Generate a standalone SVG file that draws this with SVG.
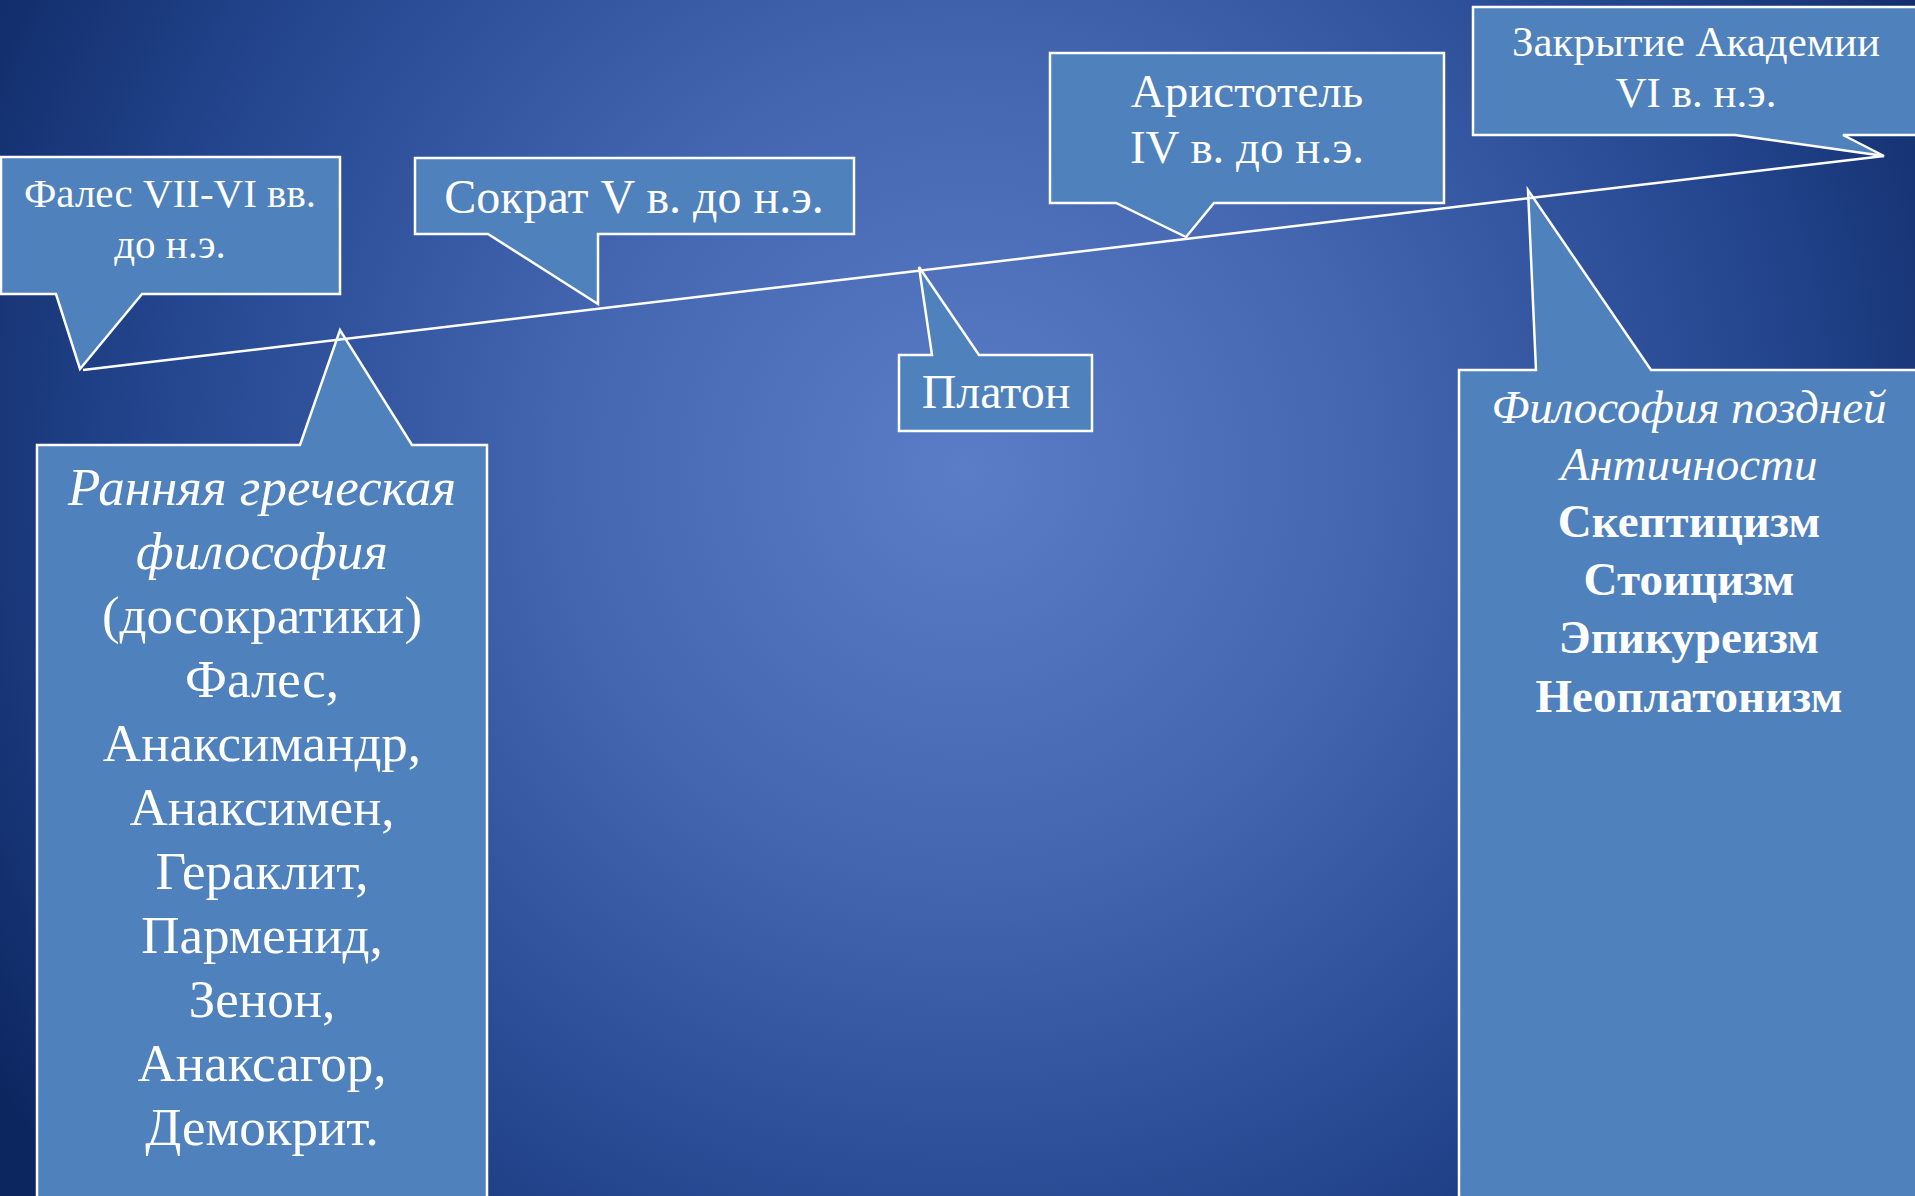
<svg xmlns="http://www.w3.org/2000/svg" width="1915" height="1196" viewBox="0 0 1915 1196">
<defs>
<radialGradient id="bg" gradientUnits="userSpaceOnUse" cx="965" cy="470" r="1150">
<stop offset="0" stop-color="#5b7cc7"/>
<stop offset="0.35" stop-color="#4465b0"/>
<stop offset="0.7" stop-color="#24468f"/>
<stop offset="1" stop-color="#0c2660"/>
</radialGradient>
<style>
.box{fill:#4f81bd;stroke:#ffffff;stroke-width:2.5;stroke-linejoin:miter}
.t{font-family:"Liberation Serif","Times New Roman",serif;fill:#ffffff;text-anchor:middle}
.i{font-style:italic}
.b{font-weight:bold}
.line{stroke:#ffffff;stroke-width:2.5;fill:none}
</style>
</defs>
<rect width="1915" height="1196" fill="url(#bg)"/>
<g id="thales">
<path class="box" d="M1,157 H340 V294 H142 L80,369 L56,294 H1 Z"/>
<text class="t" font-size="41" x="170" y="207">Фалес VII-VI вв.</text>
<text class="t" font-size="41" x="170" y="258">до н.э.</text>
</g>
<g id="socrates">
<path class="box" d="M415,158 H854 V234 H598 V304 L488,234 H415 Z"/>
<text class="t" font-size="48" x="634" y="213">Сократ V в. до н.э.</text>
</g>
<g id="plato">
<path class="box" d="M899,355 H932 L919,267 L979,355 H1092 V431 H899 Z"/>
<text class="t" font-size="48" x="996" y="408">Платон</text>
</g>
<g id="aristotle">
<path class="box" d="M1050,53 H1444 V203 H1214 L1186,237 L1116,203 H1050 Z"/>
<text class="t" font-size="47" x="1247" y="107">Аристотель</text>
<text class="t" font-size="47" x="1247" y="163">IV в. до н.э.</text>
</g>
<g id="academy-closure">
<path class="box" d="M1473,7 H1918 V135 H1843 L1884,156 L1735,135 H1473 Z"/>
<text class="t" font-size="43" x="1696" y="56">Закрытие Академии</text>
<text class="t" font-size="43" x="1696" y="107">VI в. н.э.</text>
</g>
<g id="early-greek">
<path class="box" d="M37,445 H300 L340,330 L412,445 H487 V1198 H37 Z"/>
<text class="t i" font-size="53" x="262" y="505">Ранняя греческая</text>
<text class="t i" font-size="53" x="262" y="569">философия</text>
<text class="t" font-size="53" x="262" y="633">(досократики)</text>
<text class="t" font-size="53" x="262" y="697">Фалес,</text>
<text class="t" font-size="53" x="262" y="761">Анаксимандр,</text>
<text class="t" font-size="53" x="262" y="825">Анаксимен,</text>
<text class="t" font-size="53" x="262" y="889">Гераклит,</text>
<text class="t" font-size="53" x="262" y="953">Парменид,</text>
<text class="t" font-size="53" x="262" y="1017">Зенон,</text>
<text class="t" font-size="53" x="262" y="1081">Анаксагор,</text>
<text class="t" font-size="53" x="262" y="1145">Демокрит.</text>
</g>
<g id="late-antiquity">
<path class="box" d="M1459,370 H1536 L1528,190 L1651,370 H1918 V1198 H1459 Z"/>
<text class="t i" font-size="47" x="1689" y="423">Философия поздней</text>
<text class="t i" font-size="47" x="1689" y="480">Античности</text>
<text class="t b" font-size="47" x="1689" y="537">Скептицизм</text>
<text class="t b" font-size="47" x="1689" y="595">Стоицизм</text>
<text class="t b" font-size="47" x="1689" y="653">Эпикуреизм</text>
<text class="t b" font-size="47" x="1689" y="712">Неоплатонизм</text>
</g>
<g id="connectors">
<line class="line" x1="83" y1="370" x2="1884" y2="156"/>
</g>
</svg>
